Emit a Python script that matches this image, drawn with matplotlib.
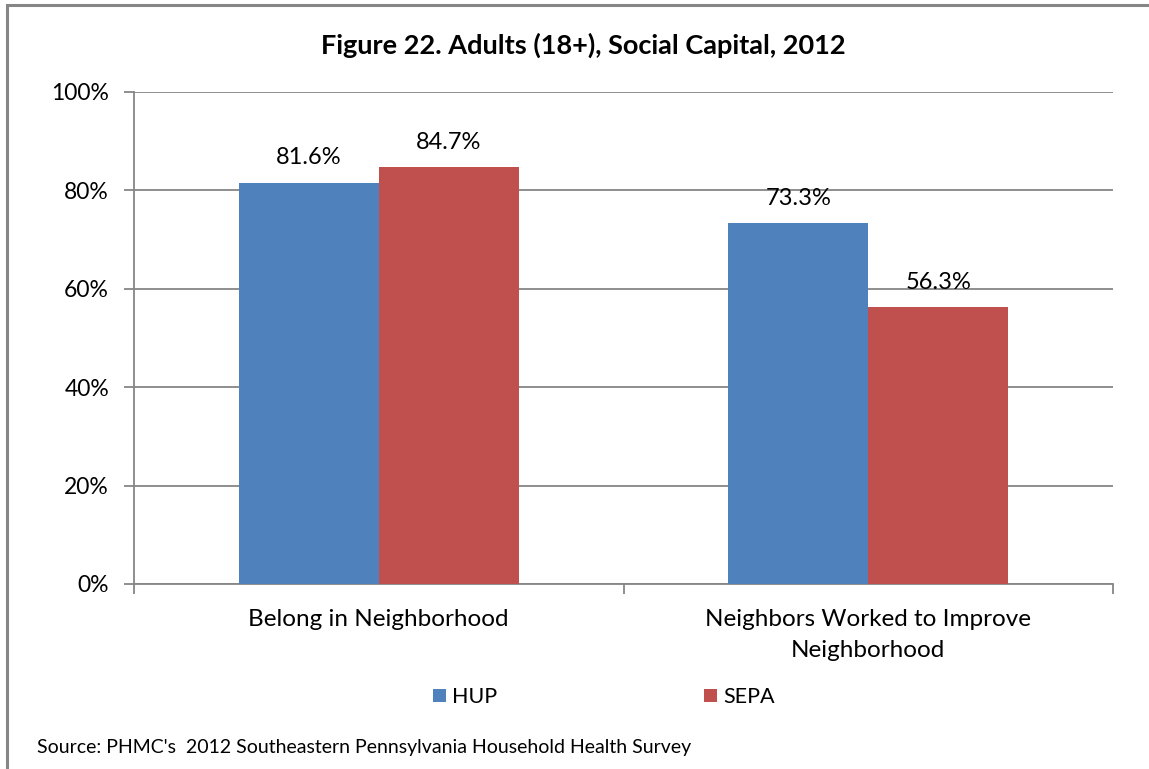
import matplotlib
matplotlib.use("Agg")
import matplotlib.pyplot as plt
from matplotlib.patches import Rectangle

categories = ["Belong in Neighborhood", "Neighbors Worked to Improve\nNeighborhood"]
series_names = ["HUP", "SEPA"]
hup = [81.6, 73.3]
sepa = [84.7, 56.3]
yticks = [0, 20, 40, 60, 80, 100]
title = "Figure 22. Adults (18+), Social Capital, 2012"
source = "Source: PHMC's  2012 Southeastern Pennsylvania Household Health Survey"

colors = ["#4F81BD", "#C0504D"]
grid_c = "#868686"
font = "Lato"

W, H = 1149, 769
fig = plt.figure(figsize=(W / 100, H / 100), dpi=100)
fig.patch.set_facecolor("white")

# outer border
fig.add_artist(Rectangle((7 / W, -0.1), 1.2, 1 - 5 / H + 0.1, transform=fig.transFigure,
                         fill=False, edgecolor="#868686", linewidth=2.2))

ax = fig.add_axes([134 / W, 1 - 584 / H, (1113 - 134) / W, (584 - 92) / H])
bw = 0.2857
x = range(len(categories))
for i, (vals, c, name) in enumerate(zip([hup, sepa], colors, series_names)):
    pos = [xi + (i - 0.5) * bw for xi in x]
    bars = ax.bar(pos, vals, width=bw, color=c, label=name, zorder=3)
    for p, v in zip(pos, vals):
        ax.annotate(f"{v:.1f}%", (p, v), xytext=(0, 18), textcoords="offset points",
                    ha="center", va="center", fontsize=17, family=font, color="black")

ax.set_xlim(-0.5, 1.5)
ax.set_ylim(0, 100)
ax.set_yticks(yticks)
ax.set_yticklabels([f"{t}%" for t in yticks], fontsize=16.5, family=font)
ax.yaxis.grid(True, color=grid_c, linewidth=1.3, zorder=0)
ax.set_xticks([-0.5, 0.5, 1.5])
ax.set_xticklabels([])
ax.set_xticks([0, 1], minor=True)
ax.set_xticklabels(categories, minor=True, fontsize=17.5, family=font, linespacing=1.6)
ax.tick_params(axis="x", which="minor", length=0, pad=18)
ax.tick_params(axis="x", which="major", length=7, color=grid_c, width=1.3)
ax.tick_params(axis="y", length=7, color=grid_c, width=1.3, pad=11)
for s in ["top", "right"]:
    ax.spines[s].set_visible(False)
for s in ["left", "bottom"]:
    ax.spines[s].set_color(grid_c)
    ax.spines[s].set_linewidth(1.3)

fig.text(583 / W, 1 - 45 / H, title, ha="center", va="center", fontsize=19.5,
         fontweight="bold", family=font)

leg = fig.legend(*ax.get_legend_handles_labels(), loc="center", ncol=2,
                 bbox_to_anchor=(604 / W, 1 - 697 / H), frameon=False,
                 prop={"family": font, "size": 15.5}, handlelength=0.6, handleheight=0.6,
                 handletextpad=0.3, columnspacing=9.6)

fig.text(37 / W, 1 - 748 / H, source, ha="left", va="center", fontsize=14, family=font)

fig.savefig("out.png", dpi=100)
